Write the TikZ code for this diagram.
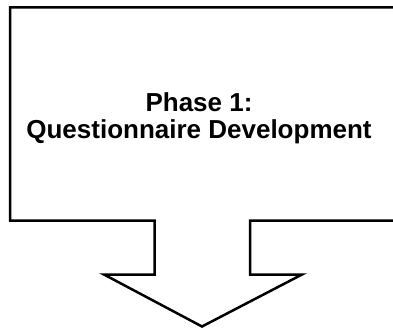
\documentclass[tikz,border=0pt]{standalone}
\usepackage{fontspec}
\setmainfont{Liberation Sans}
\begin{document}
\begin{tikzpicture}[x=1pt,y=1pt,
  calloutline/.style={draw=black,line width=2.5pt,line join=miter,fill=white},
  labeltext/.style={font=\fontsize{26}{27}\selectfont\bfseries,align=center,inner sep=0pt}]
\useasboundingbox (0,0) rectangle (393,330);
\clip (0,0) rectangle (393,330);
\draw[calloutline] (10,322.5) -- (405,322.5) -- (405,109.5) -- (250,109.5) -- (250,55.5)
  -- (302,55.5) -- (202,3.5) -- (104,55.5) -- (154.5,55.5) -- (154.5,109.5) -- (10,109.5) -- cycle;
\node[labeltext] (title) at (199,211.5) {Phase 1:\\Questionnaire Development};
\end{tikzpicture}
\end{document}
